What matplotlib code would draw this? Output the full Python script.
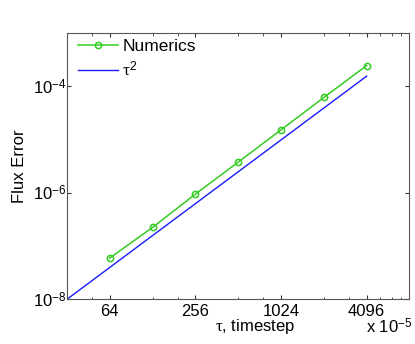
import numpy as np
import matplotlib
matplotlib.use("Agg")
import matplotlib.pyplot as plt
from matplotlib.ticker import FixedLocator, NullLocator, NullFormatter

plt.rcParams['font.family'] = ['Liberation Sans', 'DejaVu Sans']
plt.rcParams['mathtext.fontset'] = 'custom'
plt.rcParams['mathtext.rm'] = 'Liberation Sans'
plt.rcParams['mathtext.it'] = 'Liberation Serif'

# timestep in units of 1e-5
tau = [64, 128, 256, 512, 1024, 2048, 4096]
flux_err = [5.96e-8, 2.24e-7, 9.46e-7, 3.77e-6, 1.52e-5, 6.17e-5, 2.45e-4]

# reference slope line
tau_ref = [32, 4096]
err_ref = [1.0e-8, 1.55e-4]

xticks = [64, 256, 1024, 4096]
xminor = [48, 128, 192, 512, 768, 2048, 3072, 5120, 6144, 7168]
yticks = [1e-8, 1e-6, 1e-4]
ytick_labels = [r'$10^{-8}$', r'$10^{-6}$', r'$10^{-4}$']

fig = plt.figure(figsize=(4.15, 3.44), dpi=100)
ax = fig.add_axes([0.1614, 0.130, 0.8253, 0.774])

ax.plot(tau, flux_err, '-o', color='#33cc22', lw=1.1, ms=4.5,
        mfc='none', mew=1.1, label='Numerics')
ax.plot(tau_ref, err_ref, '-', color='#1a1aff', lw=1.0, label=r'$\tau^2$')

ax.set_xscale('log')
ax.set_yscale('log')
ax.set_xlim(32, 8192)
ax.set_ylim(1e-8, 1e-3)

ax.xaxis.set_major_locator(FixedLocator(xticks))
ax.set_xticklabels([str(t) for t in xticks])
ax.xaxis.set_minor_locator(FixedLocator(xminor))
ax.xaxis.set_minor_formatter(NullFormatter())
ax.yaxis.set_major_locator(FixedLocator(yticks))
ax.set_yticklabels(ytick_labels)
ax.yaxis.set_minor_locator(NullLocator())

ax.tick_params(which='both', direction='in', top=True, right=True,
               color='#333333', labelsize=12)
ax.tick_params(axis='x', which='major', length=3, pad=3.5)
ax.tick_params(axis='y', which='major', length=3, pad=0.5)
ax.tick_params(which='minor', length=1.8)
for s in ax.spines.values():
    s.set_color('#555555')
    s.set_linewidth(0.8)

leg = ax.legend(loc='upper left', bbox_to_anchor=(0.032, 0.978), frameon=False,
                fontsize=12.5, borderpad=0, borderaxespad=0, handlelength=2.3,
                handletextpad=0.25, labelspacing=0.35)

fig.text(20 / 415, 1 - 166 / 344, 'Flux Error', rotation=90,
         ha='center', va='center', fontsize=12)
fig.text(255 / 415, 17 / 344, r'$\tau$, timestep', ha='center',
         va='center', fontsize=12)
fig.text(366 / 415, 17 / 344, r'x $10^{-5}$', ha='left', va='center',
         fontsize=12)

fig.savefig('out.png', dpi=100)
